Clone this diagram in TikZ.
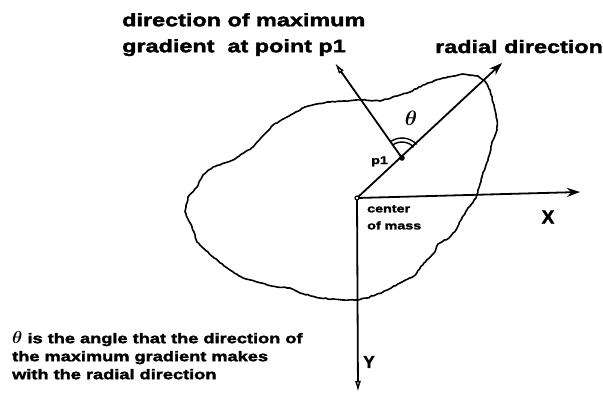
\documentclass[tikz,border=0pt]{standalone}
\usepackage{amsmath}
\usepackage{fontspec}
\usetikzlibrary{arrows.meta,decorations.pathmorphing}
\newfontfamily\lab{Liberation Sans Bold}[FakeStretch=1.3,FakeBold=2.2]
\newfontfamily\labn{Liberation Sans Bold}[FakeBold=2]
\begin{document}
\begin{tikzpicture}[x=1pt,y=-1pt,
  blob/.style={line width=1.6pt,line join=round,
    decorate,decoration={random steps,segment length=2.5pt,amplitude=0.45pt}},
  axis/.style={line width=1.8pt},
  filledtip/.style={-{Stealth[length=13pt,width=9pt]}},
  opentip/.style={-{Latex[open,length=11pt,width=6pt,line width=1.4pt]}},
  txt/.style={inner sep=0pt,align=left}]
\useasboundingbox (0,0) rectangle (603,405);
\pgfmathsetseed{7}
% outline of the object
\draw[blob] (317,104) -- (330,102) -- (345,101) -- (362,100) -- (380,101) -- (397,96)
 -- (410,92) -- (423,85) -- (443,78) -- (463,74) -- (478,76) -- (484,80) -- (490,90)
 -- (494,105) -- (497,120) -- (497,130) -- (492,142) -- (490,153) -- (486,165)
 -- (482,177) -- (478,190) -- (476,198) -- (468,208) -- (462,218) -- (456,230)
 -- (449,238) -- (438,244) -- (434,253) -- (424,263) -- (414,276) -- (400,283)
 -- (383,292) -- (367,298) -- (357,300) -- (343,300) -- (320,298) -- (300,293)
 -- (290,288) -- (277,287) -- (257,282) -- (243,278) -- (230,270) -- (213,257)
 -- (197,242) -- (192,227) -- (185,212) -- (188,197) -- (197,187) -- (203,175)
 -- (213,167) -- (233,160) -- (253,147) -- (273,125) -- (287,117) -- (305,107) -- cycle;
% key points
\coordinate (cm) at (357,198);
\coordinate (p1) at (402,158);
\coordinate (radtip) at (502,63);
\coordinate (gradtip) at (335,63);
\coordinate (xtip) at (580,192);
\coordinate (ytip) at (358,392);
% axes
\draw[axis,filledtip] (cm) -- (xtip);
\draw[axis,opentip] (cm) -- (ytip);
% radial and gradient directions
\draw[axis,filledtip] (cm) -- (radtip);
\draw[axis,opentip] (p1) -- (gradtip);
% angle arcs
\draw[line width=1.4pt] (p1) ++(43:16pt) arc[start angle=43,end angle=125,radius=16pt];
\draw[line width=1.4pt] (p1) ++(43:20pt) arc[start angle=43,end angle=125,radius=20pt];
% points
\fill (p1) circle (2.8pt);
\draw[line width=1.2pt,fill=white] (cm) circle (2pt);
% labels
\node[txt,anchor=north west,font=\lab\fontsize{18}{26}\selectfont] (title) at (122,13)
  {direction of maximum\\gradient\ \ at point p1};
\node[txt,anchor=base west,font=\lab\fontsize{18}{26}\selectfont] (radlab) at (435,53)
  {radial direction};
\node[txt,font=\fontsize{20}{20}\selectfont] (theta) at (411,118) {$\boldsymbol{\theta}$};
\node[txt,anchor=base west,font=\lab\fontsize{11}{12}\selectfont] (p1lab) at (371,164) {p1};
\node[txt,anchor=north west,font=\lab\fontsize{11}{17}\selectfont] (cmlab) at (367,205)
  {center\\of mass};
\node[txt,font=\labn\fontsize{19}{19}\selectfont] (xlab) at (548,217) {X};
\node[txt,font=\labn\fontsize{17}{17}\selectfont] (ylab) at (369,362) {Y};
\node[txt,anchor=north west,font=\lab\fontsize{14}{18}\selectfont] (caption) at (12,331)
  {\fontsize{16}{18}\selectfont$\boldsymbol{\theta}$\fontsize{14}{18}\selectfont\ is the angle that the direction of\\the maximum gradient makes\\with the radial direction};
\end{tikzpicture}
\end{document}
